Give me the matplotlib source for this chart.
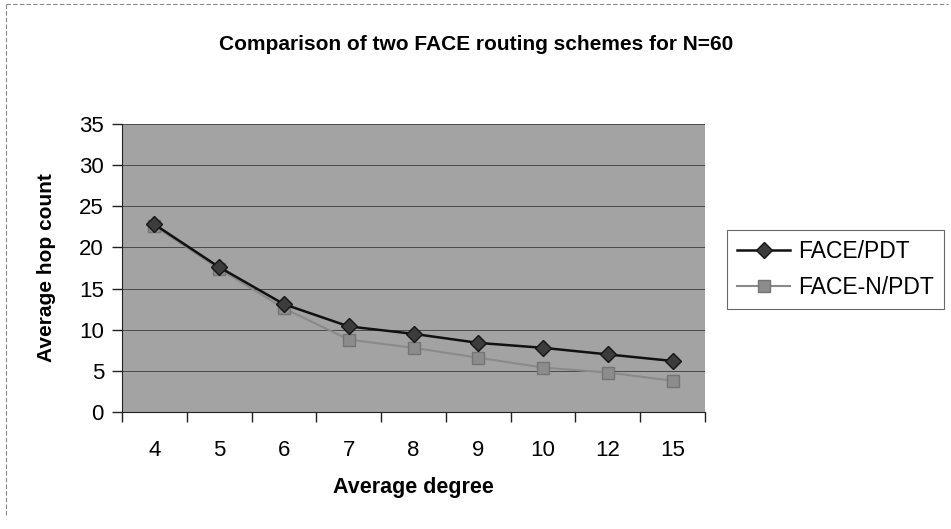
import matplotlib
matplotlib.use("Agg")
import matplotlib.pyplot as plt
from matplotlib.lines import Line2D

plt.rcParams['font.family'] = ['Liberation Sans', 'DejaVu Sans']

# average node degree (categorical axis)
degrees = ['4', '5', '6', '7', '8', '9', '10', '12', '15']

# average hop count per scheme
face_pdt = [22.8, 17.6, 13.1, 10.4, 9.5, 8.4, 7.8, 7.0, 6.2]
face_n_pdt = [22.6, 17.4, 12.6, 8.8, 7.8, 6.6, 5.4, 4.8, 3.8]

y_ticks = [0, 5, 10, 15, 20, 25, 30, 35]

W, H = 951, 529
fig = plt.figure(figsize=(W / 100, H / 100), dpi=100)

# plot area in pixel coords: x 122..705, y 124..412
ax = fig.add_axes([122 / W, (H - 412) / H, (705 - 122) / W, (412 - 124) / H])
ax.set_facecolor('#a3a3a3')

x = list(range(len(degrees)))
gray_style = dict(color='#8a8a8a', lw=1.5, marker='s', ms=8,
                  mfc='#8c8c8c', mec='#747474')
dark_style = dict(color='#111111', lw=1.8, marker='D', ms=8,
                  mfc='#3c3c3c', mec='#151515')

ax.plot(x, face_n_pdt, zorder=3, **gray_style)
ax.plot(x, face_pdt, zorder=4, **dark_style)

ax.set_xlim(-0.5, len(degrees) - 0.5)
ax.set_ylim(0, 35)
ax.set_yticks(y_ticks)
ax.set_yticklabels([str(v) for v in y_ticks], fontsize=16)
ax.set_xticks(x)
ax.set_xticklabels(degrees, fontsize=16)
ax.set_xticks([i - 0.5 for i in range(len(degrees) + 1)], minor=True)
ax.tick_params(axis='x', which='major', length=0, pad=20)
ax.tick_params(axis='x', which='minor', length=7, width=1, color='#222222')
ax.tick_params(axis='y', length=7, width=1, color='#222222', pad=6)

for v in y_ticks[1:]:
    ax.axhline(v, color='#4a4a4a', lw=0.7, zorder=1)

for side in ['top', 'right']:
    ax.spines[side].set_visible(False)
ax.spines['left'].set_color('#222222')
ax.spines['bottom'].set_color('#222222')

fig.text(476 / W, 1 - 44 / H, 'Comparison of two FACE routing schemes for N=60',
         ha='center', va='center', fontsize=15, fontweight='bold')
fig.text(413 / W, 1 - 487 / H, 'Average degree', ha='center', va='center',
         fontsize=15.5, fontweight='bold')
fig.text(47 / W, 1 - 268 / H, 'Average hop count', ha='center', va='center',
         rotation=90, fontsize=15, fontweight='bold')

handles = [Line2D([], [], **dark_style), Line2D([], [], **gray_style)]
leg = fig.legend(handles, ['FACE/PDT', 'FACE-N/PDT'], loc='upper left',
                 bbox_to_anchor=(727 / W, 1 - 230 / H), fontsize=16.5,
                 frameon=True, fancybox=False, handlelength=2.3,
                 handletextpad=0.35, borderpad=0.45, labelspacing=0.55,
                 borderaxespad=0)
leg.get_frame().set_edgecolor('#444444')
leg.get_frame().set_linewidth(0.8)

# outer chart border
fig.add_artist(Line2D([6 / W, 6 / W], [1 - 4 / H, 1 - 515 / H],
                      transform=fig.transFigure, color='#888888', lw=0.8, ls=(0, (4, 2))))
fig.add_artist(Line2D([6 / W, 948 / W], [1 - 4 / H, 1 - 4 / H],
                      transform=fig.transFigure, color='#888888', lw=0.8, ls=(0, (4, 2))))

fig.savefig('out.png', dpi=100, facecolor='white')
